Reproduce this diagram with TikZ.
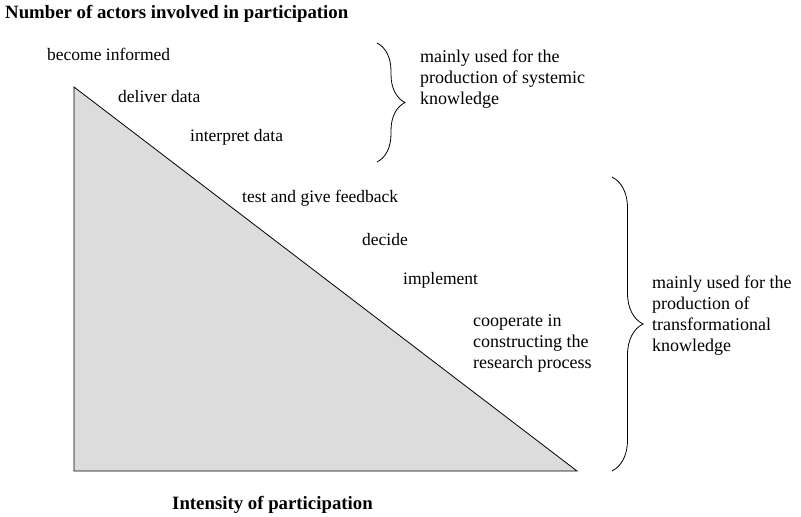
\documentclass[tikz,border=0pt]{standalone}
\usepackage{fontspec}
\setmainfont{Liberation Serif}
\usepackage{tikz}
\usetikzlibrary{decorations.pathreplacing}

\definecolor{wedgegray}{HTML}{DCDCDC}

\begin{document}
\begin{tikzpicture}[x=1pt, y=-1pt,
    label/.style = {anchor=west, inner sep=0pt, font=\fontsize{17.5}{21}\selectfont},
    note/.style = {anchor=west, inner sep=0pt, align=left, font=\fontsize{18}{21}\selectfont},
    heading/.style = {anchor=west, inner sep=0pt, font=\fontsize{18.8}{21}\selectfont\bfseries},
    curly/.style = {decorate, decoration={brace, amplitude=#1}, thick}]
\useasboundingbox (0,0) rectangle (801,517);
% the wedge
\draw[thick, fill=wedgegray] (74,87) -- (74,471) -- (577,471) -- cycle;
% axis titles
\node[heading] (nactors) at (5,14) {Number of actors involved in participation};
\node[heading] (intensity) at (172,505) {Intensity of participation};
% steps of participation
\node[label] (inform)    at (47,54)   {become informed};
\node[label] (deliver)   at (118,97)  {deliver data};
\node[label] (interpret) at (190,137) {interpret data};
\node[label] (feedback)  at (242,198) {test and give feedback};
\node[label] (decide)    at (362,240) {decide};
\node[label] (implement) at (403,280) {implement};
\node[note]  (cooperate) at (473,343) {cooperate in\\constructing the\\research process};
% braces
\coordinate (b1top) at (377,43);
\coordinate (b1bot) at (377,162);
\coordinate (b2top) at (612,177);
\coordinate (b2bot) at (612,471);
\draw[curly=28pt] (b1top) -- (b1bot);
\draw[curly=31pt] (b2top) -- (b2bot);
\node[note] (systemic) at (420,79) {mainly used for the\\production of systemic\\knowledge};
\node[note] (transform) at (652,316) {mainly used for the\\production of\\transformational\\knowledge};
\end{tikzpicture}
\end{document}
